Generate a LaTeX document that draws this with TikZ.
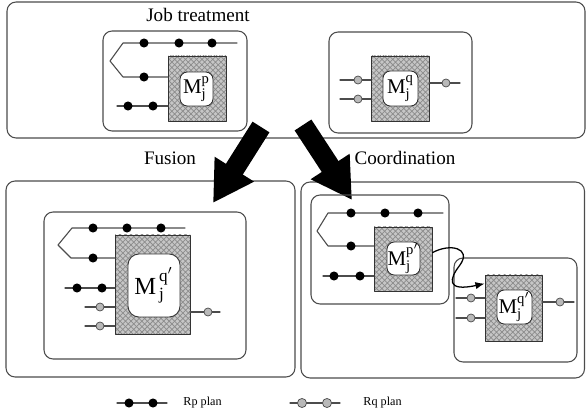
\documentclass[tikz,border=0pt]{standalone}
\usepackage{fontspec}
\setmainfont{Liberation Serif}
\usetikzlibrary{arrows.meta,patterns,fit}
\tikzset{
  frame/.style={draw=black!70, line width=0.6pt, rounded corners=5pt},
  hatch/.style={draw=black!80, line width=0.5pt, inner sep=0pt, preaction={fill=gray!45}, pattern=crosshatch, pattern color=gray!90},
  mbox/.style={draw=black!80, line width=0.5pt, fill=white, rounded corners=4pt, inner sep=0pt},
  plan/.style={draw=black!70, line width=0.6pt},
  rpdot/.style={fill=black},
  rqdot/.style={draw=black!70, line width=0.4pt, fill=gray!55},
  bigarrow/.style={line width=11pt, line cap=butt, -{Triangle[width=24pt,length=22pt]}},
  mlabel/.style={font=\fontsize{11.5}{13}\selectfont, inner sep=0pt}
}
\begin{document}
\begin{tikzpicture}[line join=round, line cap=round, x=0.55pt, y=-0.55pt, font=\rmfamily\fontsize{10.5}{12}\selectfont]
  \useasboundingbox (0,0) rectangle (586,414);
  %Cadres
  \draw[frame] (7,2) rectangle (585,138);
  \draw[frame] (6,181) rectangle (295,377);
  \draw[frame] (301,182) rectangle (584.5,378);
  \node (jobt) at (198,15) {Job treatment};
  \node (fusion) at (170,158) {Fusion};
  \node (coord) at (405,158) {Coordination};

  %Job treatment : machine p
  \draw[frame] (103,31) rectangle (247,131);
  \node[hatch, fit={(168,56) (226,121)}] (hp) {};
  \node[mbox, fit={(180,72) (213,106)}] (mp) {};
  \node[mlabel] (lp) at (mp) {$\mathrm{M}^{\mathrm{p}}_{\mathrm{j}}$};
  \draw[plan] (237,43) -- (123,43) -- (110,61) -- (123,77) -- (168,77);
  \draw[plan] (117,106) -- (168,106);
  \foreach \x in {144,179,212} \fill[rpdot] (\x,43) circle (2.5pt);
  \fill[rpdot] (144,77) circle (2.5pt);
  \foreach \x in {128,153} \fill[rpdot] (\x,106) circle (2.5pt);

  %Job treatment : machine q
  \draw[frame] (329,32) rectangle (472,133);
  \node[hatch, fit={(371,56) (429,121)}] (hq) {};
  \node[mbox, fit={(383,71) (418,106)}] (mq) {};
  \node[mlabel] (lq) at (mq) {$\mathrm{M}^{\mathrm{q}}_{\mathrm{j}}$};
  \foreach \y in {80,99} {
    \draw[plan] (340,\y) -- (371,\y);
    \draw[rqdot] (358,\y) circle (2.2pt);
  }
  \draw[plan] (429,83) -- (460,83);
  \draw[rqdot] (446,83) circle (2.2pt);

  %Fleches
  \coordinate (fusS) at (261,127);
  \coordinate (fusE) at (213,203);
  \coordinate (corS) at (303,125);
  \coordinate (corE) at (352,200);
  \draw[bigarrow] (fusS) -- (fusE);
  \draw[bigarrow] (corS) -- (corE);

  %Fusion
  \draw[frame] (44,212) rectangle (246,359);
  \node[hatch, fit={(115,235) (190,334)}] (hf) {};
  \node[mbox, rounded corners=6pt, fit={(128,254) (180,317)}] (mf) {};
  \node[mlabel, font=\fontsize{13.5}{15}\selectfont] (lf) at (mf) {$\mathrm{M}^{\,\mathrm{q}'}_{\,\mathrm{j}}$};
  \draw[plan] (185,228) -- (72,228) -- (58,245) -- (71,258) -- (115,258);
  \draw[plan] (65,288) -- (115,288);
  \foreach \x in {93,127,161} \fill[rpdot] (\x,228) circle (2.5pt);
  \fill[rpdot] (93,258) circle (2.5pt);
  \foreach \x in {77,102} \fill[rpdot] (\x,288) circle (2.5pt);
  \foreach \y in {307,326} {
    \draw[plan] (85,\y) -- (115,\y);
    \draw[rqdot] (100,\y) circle (2.2pt);
  }
  \draw[plan] (190,312) -- (220,312);
  \draw[rqdot] (208,312) circle (2.2pt);

  %Coordination : machine p'
  \draw[frame] (311,195) rectangle (449,304);
  \node[hatch, fit={(374,227) (432,291)}] (hpc) {};
  \node[mbox, fit={(387,242) (420,275)}] (mpc) {};
  \node[mlabel] (lpc) at (mpc) {$\mathrm{M}^{\mathrm{p}'}_{\mathrm{j}}$};
  \draw[plan] (443,213) -- (328,213) -- (317,231) -- (328,246) -- (374,246);
  \draw[plan] (323,276) -- (374,276);
  \foreach \x in {351,385,418} \fill[rpdot] (\x,213) circle (2.5pt);
  \fill[rpdot] (351,246) circle (2.5pt);
  \foreach \x in {334,360} \fill[rpdot] (\x,276) circle (2.5pt);

  %Coordination : machine q'
  \draw[frame] (454,258) rectangle (577,362);
  \node[hatch, fit={(485,275) (542,341)}] (hqc) {};
  \node[mbox, fit={(497,290) (532,324)}] (mqc) {};
  \node[mlabel] (lqc) at (mqc) {$\mathrm{M}^{\mathrm{q}'}_{\mathrm{j}}$};
  \foreach \y in {298,318} {
    \draw[plan] (456,\y) -- (485,\y);
    \draw[rqdot] (471,\y) circle (2.2pt);
  }
  \draw[plan] (542,302) -- (574,302);
  \draw[rqdot] (560,302) circle (2.2pt);
  \draw[line width=0.7pt, -{Latex[length=5pt,width=4pt]}] ([yshift=3.5pt]hpc.east) .. controls (450,243) and (472,248) .. (460,265) .. controls (449,279) and (446,292) .. ([yshift=-5pt]hqc.north west);

  %Legende
  \draw[plan] (117,403) -- (167,403);
  \foreach \x in {129,153} \fill[rpdot] (\x,403) circle (2.5pt);
  \node[anchor=west, font=\fontsize{6.7}{8}\selectfont] (rpl) at (177,403) {Rp plan};
  \draw[plan] (290,403) -- (340,403);
  \foreach \x in {302,327} \draw[rqdot] (\x,403) circle (2.5pt);
  \node[anchor=west, font=\fontsize{6.7}{8}\selectfont] (rql) at (357,403) {Rq plan};
\end{tikzpicture}
\end{document}
